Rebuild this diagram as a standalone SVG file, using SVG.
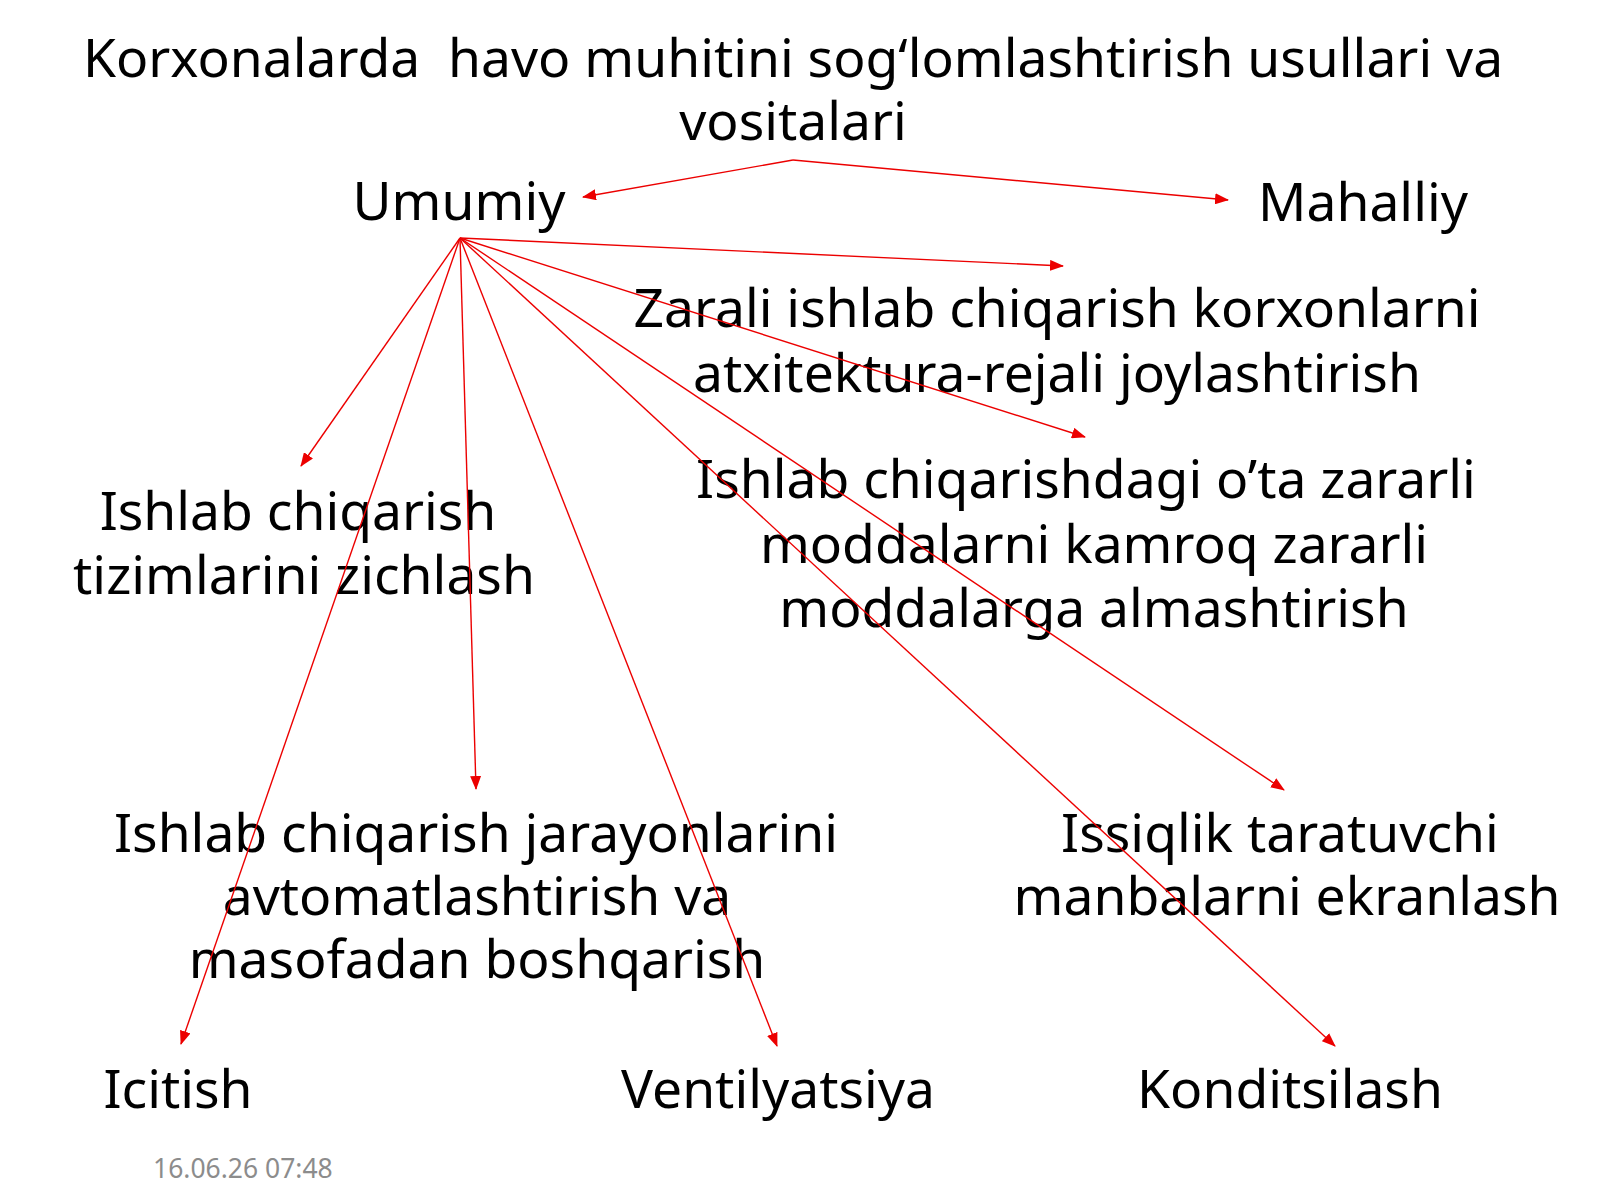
<svg xmlns="http://www.w3.org/2000/svg" width="1600" height="1200" viewBox="0 0 1600 1200">
<style>
  .t { font-family: "Noto Sans", "Open Sans", "DejaVu Sans", sans-serif; font-size: 53.4px; fill: #000; text-anchor: middle; }
  .d { font-family: "Noto Sans", "Open Sans", "DejaVu Sans", sans-serif; font-size: 26.5px; fill: #8c8c8c; }
  .c { stroke: #ec0000; stroke-width: 1.4; fill: none; marker-end: url(#ah); }
</style>
<defs>
  <marker id="ah" markerUnits="userSpaceOnUse" markerWidth="14" markerHeight="11" refX="13" refY="5.5" orient="auto">
    <path d="M0,0 L14,5.5 L0,11 Z" fill="#ec0000"/>
  </marker>
</defs>
<rect x="0" y="0" width="1600" height="1200" fill="#fff"/>

<g id="title">
  <text class="t" x="793" y="77" xml:space="preserve">Korxonalarda  havo muhitini sog‘lomlashtirish usullari va</text>
  <text class="t" x="793" y="140">vositalari</text>
</g>
<g id="umumiy"><text class="t" x="459" y="220">Umumiy</text></g>
<g id="mahalliy"><text class="t" x="1363" y="221">Mahalliy</text></g>
<g id="zarali">
  <text class="t" x="1057" y="327">Zarali ishlab chiqarish korxonlarni</text>
  <text class="t" x="1057" y="392">atxitektura-rejali joylashtirish</text>
</g>
<g id="almashtirish">
  <text class="t" x="1086" y="498">Ishlab chiqarishdagi o’ta zararli</text>
  <text class="t" x="1094" y="563">moddalarni kamroq zararli</text>
  <text class="t" x="1094" y="627">moddalarga almashtirish</text>
</g>
<g id="zichlash">
  <text class="t" x="298" y="530">Ishlab chiqarish</text>
  <text class="t" x="304" y="594">tizimlarini zichlash</text>
</g>
<g id="avtomatlashtirish">
  <text class="t" x="476" y="852">Ishlab chiqarish jarayonlarini</text>
  <text class="t" x="477" y="915">avtomatlashtirish va</text>
  <text class="t" x="477" y="978">masofadan boshqarish</text>
</g>
<g id="ekranlash">
  <text class="t" x="1280" y="852">Issiqlik taratuvchi</text>
  <text class="t" x="1287" y="915">manbalarni ekranlash</text>
</g>
<g id="icitish"><text class="t" x="178" y="1108">Icitish</text></g>
<g id="ventilyatsiya"><text class="t" x="778" y="1108">Ventilyatsiya</text></g>
<g id="konditsilash"><text class="t" x="1290" y="1108">Konditsilash</text></g>
<g id="date"><text class="d" x="153" y="1178">16.06.26 07:48</text></g>

<g id="connectors">
  <path class="c" d="M793,160 L583,197"/>
  <path class="c" d="M793,160 L1228,200"/>
  <path class="c" d="M460,238 L1063,266"/>
  <path class="c" d="M460,238 L1085,437"/>
  <path class="c" d="M460,238 L301,466"/>
  <path class="c" d="M460,238 L181,1044"/>
  <path class="c" d="M460,238 L476,789"/>
  <path class="c" d="M460,238 L777,1046"/>
  <path class="c" d="M460,238 L1284,790"/>
  <path class="c" d="M460,238 L1335,1046"/>
</g>
</svg>
